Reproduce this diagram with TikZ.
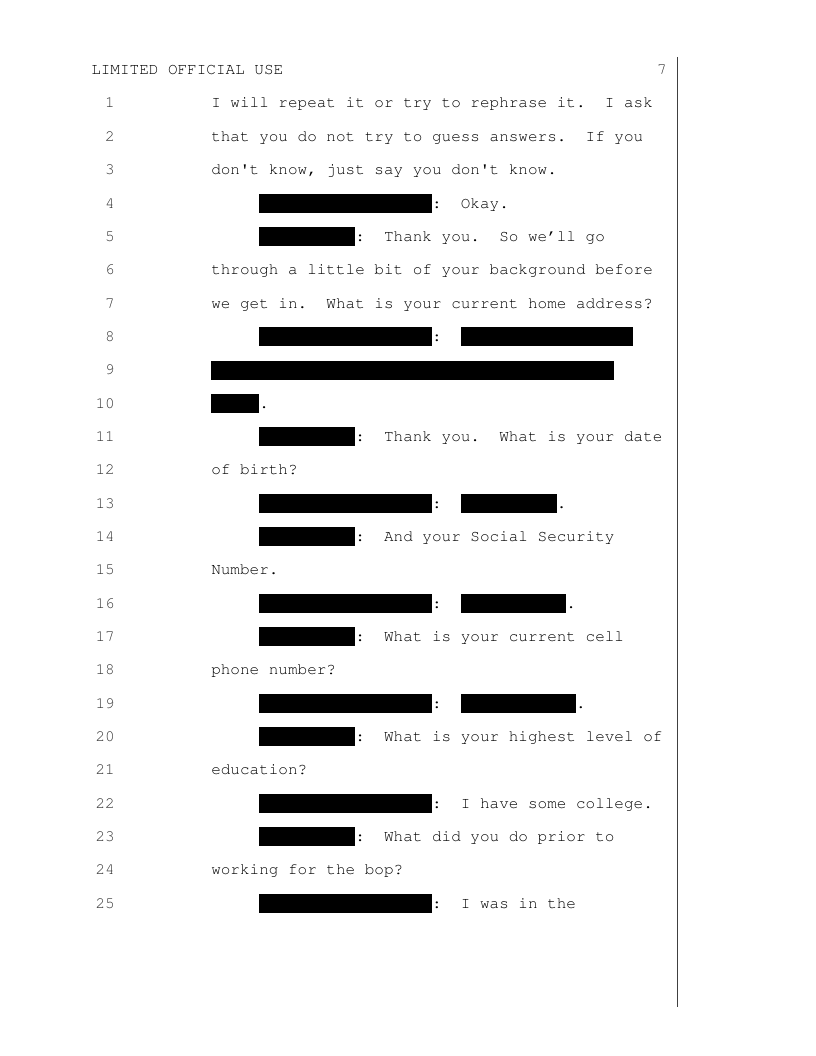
\documentclass[tikz,border=0pt]{standalone}
\usepackage[T1]{fontenc}
\usepackage{textcomp}
\renewcommand{\ttdefault}{pcr}
\newcommand{\redact}[3]{\path[redact] (#2,-#1+0.42) rectangle (#3,-#1-0.15);}
\newcommand{\sq}{\textquotesingle}

\begin{document}
\begin{tikzpicture}[
  x=7.2pt, y=25pt,
  txt/.style={anchor=base west, inner sep=0pt, text=black,
    font=\ttfamily\fontsize{12}{14}\selectfont\frenchspacing},
  lno/.style={anchor=base east, inner sep=0pt, text=black!80,
    font=\ttfamily\fontsize{12}{14}\selectfont},
  redact/.style={fill=black},
]
\useasboundingbox (-158.25pt,56pt) rectangle (453.75pt,-736pt);
% header and margin rule
\node[txt] (head) at (-12.5,0) {LIMITED OFFICIAL USE};
\node[lno] (pgno) at (47.5,0) {7};
\coordinate (rtop) at (349.5pt,13.25pt);
\coordinate (rbot) at (349.5pt,-699.25pt);
\draw[black!75, line width=0.75pt] (rtop) -- (rbot);
% line numbers
\foreach \i in {1,...,25}
  \node[lno] (n\i) at (-10,-\i) {\i};
% text
\node[txt] (t1) at (0,-1) {I will repeat it or try to rephrase it.~~I ask};
\node[txt] (t2) at (0,-2) {that you do not try to guess answers.~~If you};
\node[txt] (t3) at (0,-3) {don\sq t know, just say you don\sq t know.};
\redact{4}{5}{23}
\node[txt] (t4) at (23,-4) {:~~Okay.};
\redact{5}{5}{15}
\node[txt] (t5) at (15,-5) {:~~Thank you.~~So we'll go};
\node[txt] (t6) at (0,-6) {through a little bit of your background before};
\node[txt] (t7) at (0,-7) {we get in.~~What is your current home address?};
\redact{8}{5}{23}
\node[txt] (t8) at (23,-8) {:};
\redact{8}{26}{44}
\redact{9}{0}{42}
\redact{10}{0}{5}
\node[txt] (t10) at (5,-10) {.};
\redact{11}{5}{15}
\node[txt] (t11) at (15,-11) {:~~Thank you.~~What is your date};
\node[txt] (t12) at (0,-12) {of birth?};
\redact{13}{5}{23}
\node[txt] (t13) at (23,-13) {:};
\redact{13}{26}{36}
\node[txt] (t13b) at (36,-13) {.};
\redact{14}{5}{15}
\node[txt] (t14) at (15,-14) {:~~And your Social Security};
\node[txt] (t15) at (0,-15) {Number.};
\redact{16}{5}{23}
\node[txt] (t16) at (23,-16) {:};
\redact{16}{26}{37}
\node[txt] (t16b) at (37,-16) {.};
\redact{17}{5}{15}
\node[txt] (t17) at (15,-17) {:~~What is your current cell};
\node[txt] (t18) at (0,-18) {phone number?};
\redact{19}{5}{23}
\node[txt] (t19) at (23,-19) {:};
\redact{19}{26}{38}
\node[txt] (t19b) at (38,-19) {.};
\redact{20}{5}{15}
\node[txt] (t20) at (15,-20) {:~~What is your highest level of};
\node[txt] (t21) at (0,-21) {education?};
\redact{22}{5}{23}
\node[txt] (t22) at (23,-22) {:~~I have some college.};
\redact{23}{5}{15}
\node[txt] (t23) at (15,-23) {:~~What did you do prior to};
\node[txt] (t24) at (0,-24) {working for the bop?};
\redact{25}{5}{23}
\node[txt] (t25) at (23,-25) {:~~I was in the};
\end{tikzpicture}
\end{document}
